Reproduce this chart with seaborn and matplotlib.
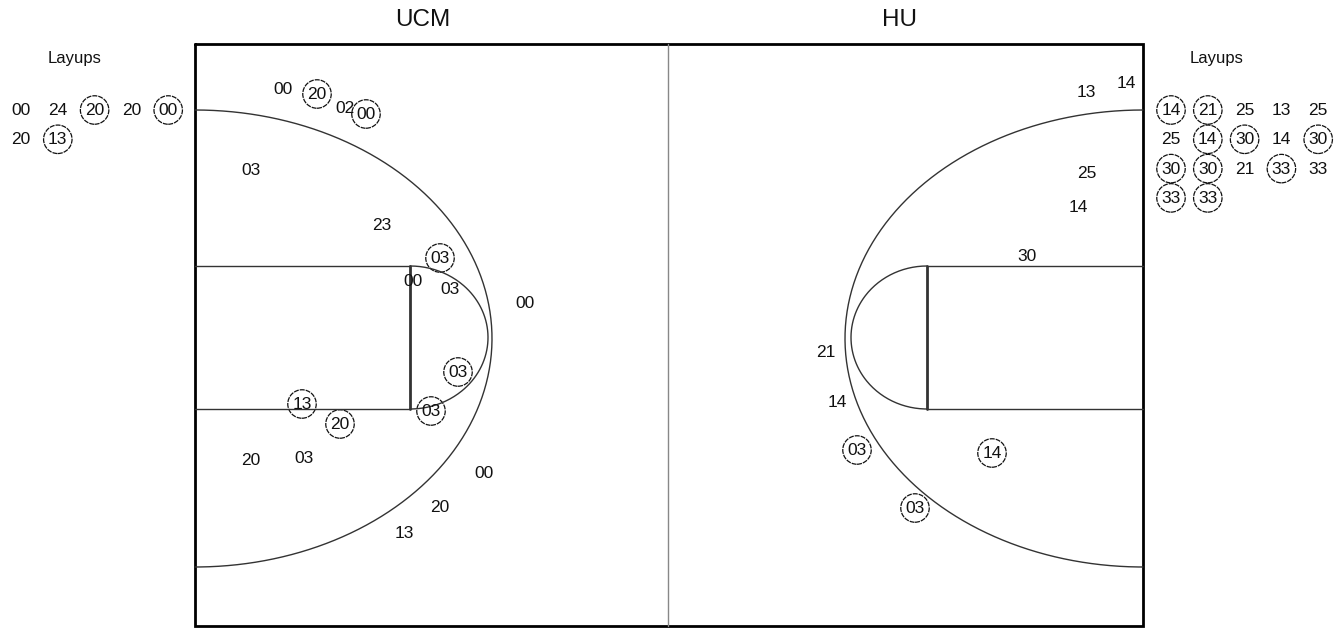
import numpy as np
import pandas as pd
import matplotlib
matplotlib.use("Agg")
import matplotlib.pyplot as plt
import seaborn as sns

# shot chart data (pixel positions, y grows downward)
ucm_player = ["00", "20", "02", "00", "03", "23", "03", "00", "03", "00", "03",
              "13", "03", "20", "20", "03", "00", "20", "13"]
ucm_x = [283, 317, 345, 366, 251, 382, 440, 413, 450, 525, 458,
         302, 431, 340, 251, 304, 484, 440, 404]
ucm_y = [89, 94, 108, 114, 170, 225, 258, 281, 289, 303, 372,
         404, 411, 424, 460, 458, 473, 507, 533]
ucm_made = [0, 1, 0, 1, 0, 0, 1, 0, 0, 0, 1,
            1, 1, 1, 0, 0, 0, 0, 0]

hu_player = ["13", "14", "25", "14", "30", "21", "14", "03", "14", "03"]
hu_x = [1086, 1126, 1087, 1078, 1027, 826, 837, 857, 992, 915]
hu_y = [92, 83, 173, 207, 256, 352, 402, 450, 453, 508]
hu_made = [0, 0, 0, 0, 0, 0, 0, 1, 1, 1]

ucm_layups = ["00", "24", "20", "20", "00", "20", "13"]
ucm_layups_made = [0, 0, 1, 0, 1, 0, 1]
hu_layups = ["14", "21", "25", "13", "25",
             "25", "14", "30", "14", "30",
             "30", "30", "21", "33", "33",
             "33", "33"]
hu_layups_made = [1, 1, 0, 0, 0,
                  0, 1, 1, 0, 1,
                  1, 1, 0, 1, 0,
                  1, 1]

sns.set_theme(style="white")
plt.rcParams['font.family'] = ['Liberation Sans', 'DejaVu Sans']

fig = plt.figure(figsize=(13.41, 6.29), dpi=100)
ax = fig.add_axes([0, 0, 1, 1])

line_c = "#333333"
# court outline
ax.plot([195, 1143, 1143, 195, 195], [44, 44, 626, 626, 44], color="black", lw=2, solid_joinstyle="miter")
ax.plot([668, 668], [44, 626], color="#888888", lw=1)

t = np.linspace(-np.pi / 2, np.pi / 2, 200)
# three point arcs
ax.plot(195 + 297 * np.cos(t), 338.5 + 228.5 * np.sin(t), color=line_c, lw=1)
ax.plot(1143 - 298 * np.cos(t), 338.5 + 228.5 * np.sin(t), color=line_c, lw=1)
# lanes
for y in (266, 409):
    ax.plot([195, 410], [y, y], color=line_c, lw=1)
    ax.plot([927, 1143], [y, y], color=line_c, lw=1)
ax.plot([410, 410], [266, 409], color=line_c, lw=2)
ax.plot([927, 927], [266, 409], color=line_c, lw=2)
# free throw circles
ax.plot(410 + 78 * np.cos(t), 337.5 + 71.5 * np.sin(t), color=line_c, lw=1)
ax.plot(927 - 76 * np.cos(t), 337.5 + 71.5 * np.sin(t), color=line_c, lw=1)

# titles
ax.text(423, 20, "UCM", ha="center", va="center", fontsize=17.5, color="#111111")
ax.text(900, 20, "HU", ha="center", va="center", fontsize=17.5, color="#111111")
ax.text(75, 59, "Layups", ha="center", va="center", fontsize=12, color="#111111")
ax.text(1217, 59, "Layups", ha="center", va="center", fontsize=12, color="#111111")


def layup_grid(players, made, x0, y0, ncol, dx=36.8, dy=29.3):
    rows = []
    for i, (p, m) in enumerate(zip(players, made)):
        rows.append({"player": p, "x": x0 + (i % ncol) * dx, "y": y0 + (i // ncol) * dy, "made": m})
    return pd.DataFrame(rows)


shots = pd.concat([
    pd.DataFrame({"player": ucm_player, "x": ucm_x, "y": ucm_y, "made": ucm_made}),
    pd.DataFrame({"player": hu_player, "x": hu_x, "y": hu_y, "made": hu_made}),
    layup_grid(ucm_layups, ucm_layups_made, 21, 110, 5),
    layup_grid(hu_layups, hu_layups_made, 1171, 110, 5),
], ignore_index=True)

for _, r in shots.iterrows():
    ax.text(r["x"], r["y"] + 0.5, r["player"], ha="center", va="center",
            fontsize=12.5, color="#111111")

made = shots[shots["made"] == 1]
sns.scatterplot(data=made, x="x", y="y", ax=ax, s=420, marker="o",
                facecolor="none", edgecolor="#111111", linewidth=0.9,
                linestyle=(0, (4, 0.8)), legend=False)
ax.set_xlim(0, 1341)
ax.set_ylim(629, 0)
ax.axis("off")

fig.savefig("out.png", dpi=100)
